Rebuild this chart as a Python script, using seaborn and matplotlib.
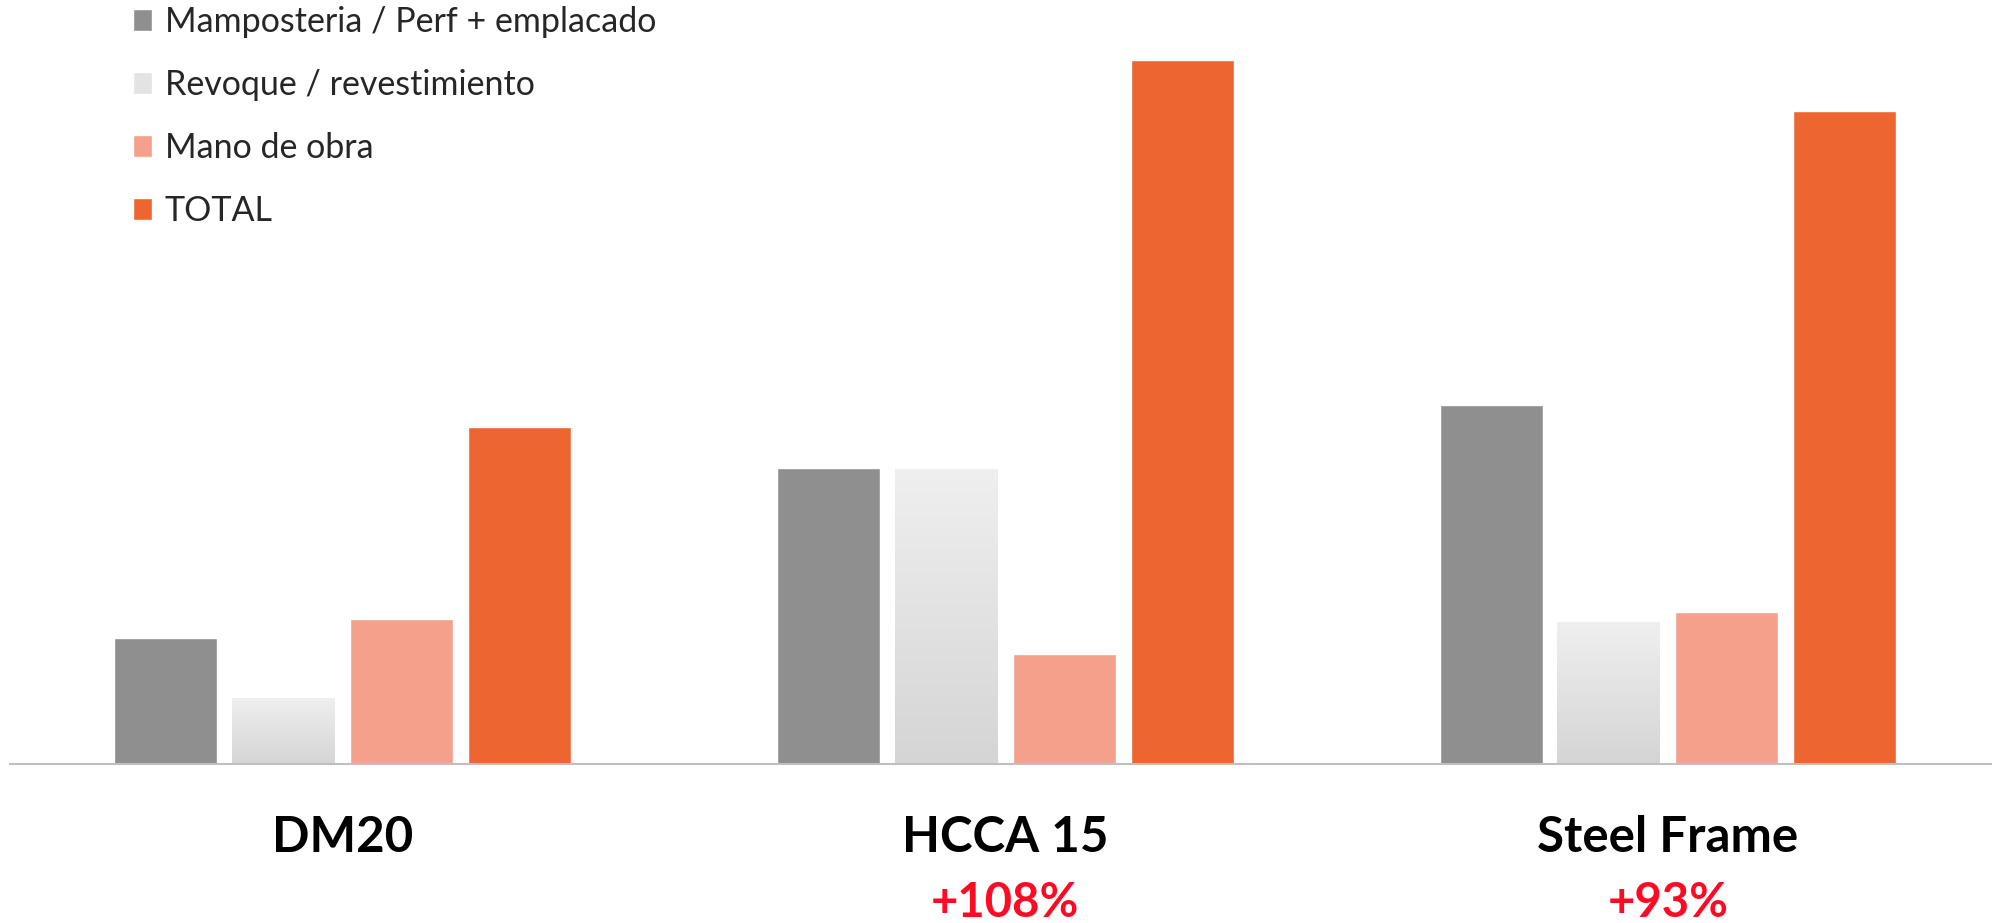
import numpy as np
import pandas as pd
import matplotlib
matplotlib.use("Agg")
import matplotlib.pyplot as plt
import matplotlib.colors as mcolors
import seaborn as sns

# data (relative cost)
sistemas = ["DM20", "HCCA 15", "Steel Frame"]
rubros = ["Mamposteria / Perf + emplacado", "Revoque / revestimiento", "Mano de obra", "TOTAL"]
mamposteria = [126, 296, 359]
revoque = [66, 295, 142]
mano_obra = [145, 110, 152]
total = [337, 704, 653]
variacion = ["", "+108%", "+93%"]

colores = ["#8F8F8F", "#E4E3E4", "#F4A08A", "#ED6530"]

rows = []
for serie, vals in zip(rubros, [mamposteria, revoque, mano_obra, total]):
    for s, v in zip(sistemas, vals):
        rows.append({"sistema": s, "rubro": serie, "valor": v})
df = pd.DataFrame(rows)

sns.set_style("white")
plt.rcParams["font.family"] = ["Lato", "DejaVu Sans"]

W, H = 1992, 923
fig = plt.figure(figsize=(W / 100, H / 100), dpi=100)
ax = fig.add_axes([10 / W, 1 - 764 / H, 1982 / W, 764 / H])

sns.barplot(data=df, x="sistema", y="valor", hue="rubro", palette=colores,
            width=0.712, gap=0.127, saturation=1, ax=ax, errorbar=None)

# gradient for the "Revoque" bars
grad = mcolors.LinearSegmentedColormap.from_list("rev", ["#D6D5D6", "#F0EFF0"])
n = len(sistemas)
for p in ax.patches[n:2 * n]:
    x0, y0 = p.get_x(), p.get_y()
    w, h = p.get_width(), p.get_height()
    p.set_facecolor("none")
    ax.imshow(np.linspace(0, 1, 100).reshape(-1, 1), cmap=grad, origin="lower",
              extent=[x0, x0 + w, y0, y0 + h], aspect="auto", zorder=p.get_zorder())
ax.set_xlim(-0.502, 2.489)
ax.set_ylim(0, 764)

for s in ["left", "right", "top"]:
    ax.spines[s].set_visible(False)
ax.spines["bottom"].set_color("#BFBFBF")
ax.spines["bottom"].set_linewidth(1.5)
ax.set_yticks([])
ax.set_xlabel("")
ax.set_ylabel("")
ax.tick_params(axis="x", length=0, pad=37, labelsize=35.5)
for t in ax.get_xticklabels():
    t.set_fontweight("bold")
    t.set_color("black")

for i, txt in enumerate(variacion):
    ax.text(i, -0.2003, txt, transform=ax.get_xaxis_transform(), ha="center",
            va="baseline", fontsize=34, fontweight="bold", color="#FF0A24")

handles, labels = ax.get_legend_handles_labels()
ax.legend(handles, labels, loc="upper left", bbox_to_anchor=(133 / W, 1 - 6 / H),
          bbox_transform=fig.transFigure, frameon=False, fontsize=24.5,
          handlelength=0.56, handleheight=0.59, handletextpad=0.38,
          labelspacing=0.91, borderpad=0, borderaxespad=0)

fig.savefig("out.png", dpi=100)
